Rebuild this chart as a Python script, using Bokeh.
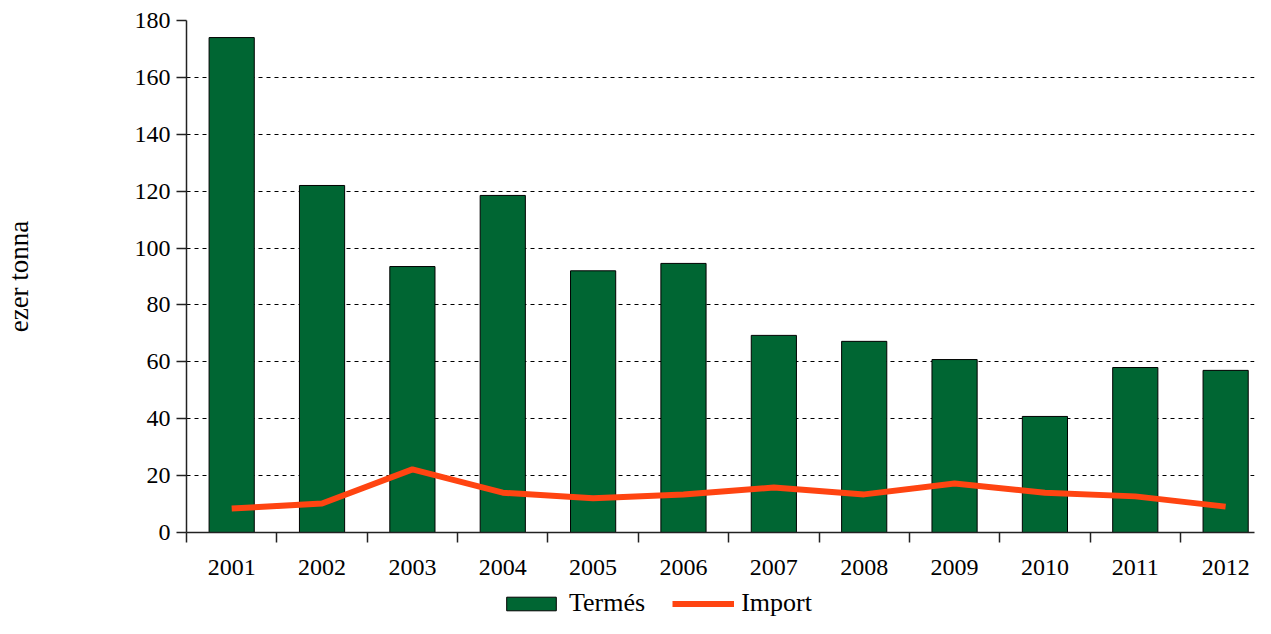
from bokeh.plotting import figure
from bokeh.layouts import column
from bokeh.models import Range1d, FixedTicker, Legend, LegendItem, ColumnDataSource
from bokeh.embed import file_html
from bokeh.resources import INLINE

years = ["2001", "2002", "2003", "2004", "2005", "2006", "2007", "2008", "2009", "2010", "2011", "2012"]
termes = [174, 122, 93.5, 118.5, 92, 94.6, 69.3, 67.2, 60.8, 40.8, 58, 57]
importv = [8.4, 10.2, 22.2, 14, 12, 13.4, 15.8, 13.4, 17.2, 14, 12.7, 9.1]
series_names = ["Termés", "Import"]

FONT = "Liberation Serif"
GREEN = "#006633"
ORANGE = "#FF4411"
xs = [i + 0.5 for i in range(len(years))]
src = ColumnDataSource(dict(x=xs, termes=termes, imp=importv, year=years))

W, H, LEG_H = 1255, 586, 32
LEFT, RIGHT, TOP, BOTTOM = 186, 1, 20, 54
cat_px = 90.36
frame_w = W - LEFT - RIGHT

p = figure(width=W, height=H, output_backend="svg", toolbar_location=None,
           x_range=Range1d(0, frame_w / cat_px), y_range=Range1d(0, 180),
           min_border_left=LEFT, min_border_right=RIGHT, min_border_top=TOP,
           min_border_bottom=BOTTOM)
p.outline_line_color = None
p.background_fill_color = "white"
p.border_fill_color = "white"

p.vbar(x="x", top="termes", width=0.5, source=src, fill_color=GREEN,
       line_color="black", line_width=1)
p.line(x="x", y="imp", source=src, line_color=ORANGE, line_width=6)

# x axis
p.xaxis.ticker = FixedTicker(ticks=xs, minor_ticks=list(range(len(years) + 1)))
p.xaxis.major_label_overrides = {x: y for x, y in zip(xs, years)}
p.xaxis.major_tick_out = 0
p.xaxis.major_tick_in = 0
p.xaxis.minor_tick_out = 10
p.xaxis.minor_tick_in = 0
p.xaxis.minor_tick_line_color = "#222222"
p.xaxis.minor_tick_line_width = 1.5
p.xaxis.axis_line_color = "#222222"
p.xaxis.axis_line_width = 1.5
p.xaxis.major_label_standoff = 17
p.xaxis.major_label_text_font = FONT
p.xaxis.major_label_text_font_size = "24px"
p.xaxis.major_label_text_color = "black"

# y axis
p.yaxis.ticker = FixedTicker(ticks=list(range(0, 181, 20)))
p.yaxis.major_tick_out = 10
p.yaxis.major_tick_in = 0
p.yaxis.minor_tick_line_color = None
p.yaxis.major_tick_line_color = "#222222"
p.yaxis.major_tick_line_width = 1.5
p.yaxis.axis_line_color = "#222222"
p.yaxis.axis_line_width = 1.5
p.yaxis.major_label_standoff = 6
p.yaxis.major_label_text_font = FONT
p.yaxis.major_label_text_font_size = "24px"
p.yaxis.major_label_text_color = "black"
p.yaxis.axis_label = "ezer tonna"
p.yaxis.axis_label_text_font = FONT
p.yaxis.axis_label_text_font_size = "27px"
p.yaxis.axis_label_text_font_style = "normal"
p.yaxis.axis_label_text_color = "black"
p.yaxis.axis_label_standoff = 98

p.xgrid.grid_line_color = None
p.ygrid.grid_line_color = "black"
p.ygrid.grid_line_dash = "4 4"
p.ygrid.grid_line_width = 1

# legend strip (its ranges keep the data out of view; only the legend shows)
lp = figure(width=W, height=LEG_H, output_backend="svg", toolbar_location=None,
            x_range=Range1d(0, 1), y_range=Range1d(1000, 1001),
            x_axis_type=None, y_axis_type=None,
            min_border_left=0, min_border_right=0, min_border_top=0, min_border_bottom=0)
lp.outline_line_color = None
lp.xgrid.grid_line_color = None
lp.ygrid.grid_line_color = None
lb = lp.vbar(x="x", top="termes", width=0.5, source=src, fill_color=GREEN,
             line_color="black", line_width=1)
ll = lp.line(x="x", y="imp", source=src, line_color=ORANGE, line_width=6)
legend = Legend(items=[LegendItem(label=series_names[0], renderers=[lb]),
                       LegendItem(label=series_names[1], renderers=[ll])],
                orientation="horizontal", location=(500 - LEFT, 0),
                glyph_width=62, glyph_height=17, label_text_font=FONT,
                label_text_font_size="26px", label_text_color="black",
                spacing=27, padding=0, margin=0,
                border_line_color=None, background_fill_alpha=0,
                label_standoff=7)
lp.add_layout(legend, "center")

open("out.html", "w").write(file_html(column(p, lp, spacing=0), INLINE))
